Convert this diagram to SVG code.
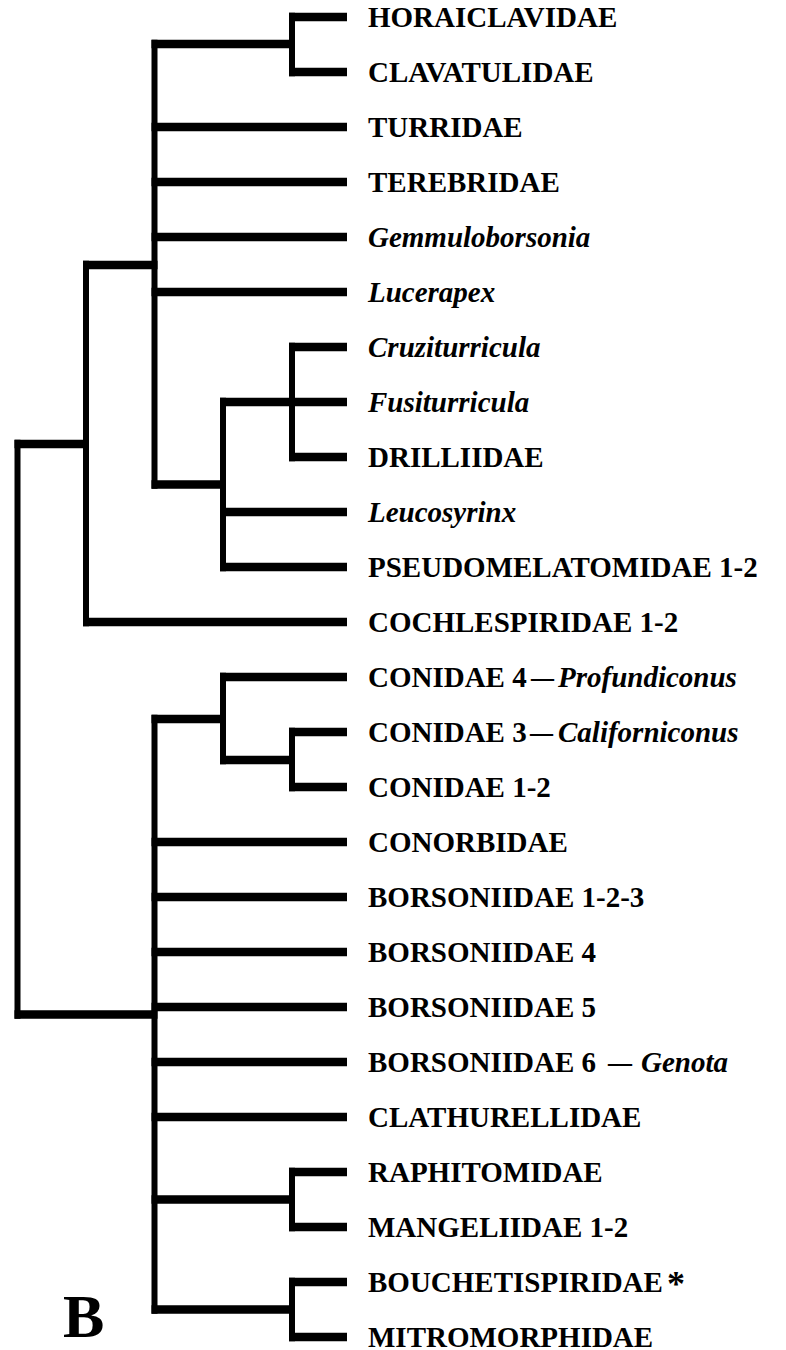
<svg xmlns="http://www.w3.org/2000/svg" width="786" height="1350" viewBox="0 0 786 1350">
<style>
.h{stroke:#000;stroke-width:8.5;fill:none}
.v{stroke:#000;stroke-width:6;fill:none}
text{font-family:"Liberation Serif","Times New Roman",serif;font-weight:bold;font-size:29px;fill:#000}
.i{font-style:italic}
</style>
<rect width="786" height="1350" fill="#fff"/>
<g id="connectors">
<path class="v" d="M17.5 439.75V1018.75M86 260.75V626.25M154.5 39.75V488.75M292 12.75V76.25M223 397.75V571.25M292 342.75V461.25M154.5 714.75V1313.75M223 672.75V764.25M292 727.75V791.25M292 1167.75V1231.25M292 1277.75V1341.25"/>
<path class="h" d="M14.5 444H89M14.5 1014.5H157.5M83 265H157.5M83 622H347M151.5 44H295M289 17H347M289 72H347M151.5 127H347M151.5 182H347M151.5 237H347M151.5 292H347M151.5 484.5H226M220 402H347M289 347H347M289 457H347M220 512H347M220 567H347M151.5 719H226M220 677H347M220 760H295M289 732H347M289 787H347M151.5 842H347M151.5 897H347M151.5 952H347M151.5 1007H347M151.5 1062H347M151.5 1117H347M151.5 1199.5H295M151.5 1309.5H295M289 1172H347M289 1227H347M289 1282H347M289 1337H347"/>
</g>
<g id="n0"><text x="368" y="26.5">HORAICLAVIDAE</text></g>
<g id="n1"><text x="368" y="81.5">CLAVATULIDAE</text></g>
<g id="n2"><text x="368" y="136.5">TURRIDAE</text></g>
<g id="n3"><text x="368" y="191.5">TEREBRIDAE</text></g>
<g id="n4"><text class="i" x="368" y="246.5">Gemmuloborsonia</text></g>
<g id="n5"><text class="i" x="368" y="301.5">Lucerapex</text></g>
<g id="n6"><text class="i" x="368" y="356.5">Cruziturricula</text></g>
<g id="n7"><text class="i" x="368" y="411.5">Fusiturricula</text></g>
<g id="n8"><text x="368" y="466.5">DRILLIIDAE</text></g>
<g id="n9"><text class="i" x="368" y="521.5">Leucosyrinx</text></g>
<g id="n10"><text x="368" y="576.5">PSEUDOMELATOMIDAE 1-2</text></g>
<g id="n11"><text x="368" y="631.5">COCHLESPIRIDAE 1-2</text></g>
<g id="n12"><text x="368" y="686.5">CONIDAE 4</text><text x="531" y="686.5" textLength="23" lengthAdjust="spacingAndGlyphs">—</text><text class="i" x="558" y="686.5">Profundiconus</text></g>
<g id="n13"><text x="368" y="741.5">CONIDAE 3</text><text x="530" y="741.5" textLength="23" lengthAdjust="spacingAndGlyphs">—</text><text class="i" x="558" y="741.5">Californiconus</text></g>
<g id="n14"><text x="368" y="796.5">CONIDAE 1-2</text></g>
<g id="n15"><text x="368" y="851.5">CONORBIDAE</text></g>
<g id="n16"><text x="368" y="906.5">BORSONIIDAE 1-2-3</text></g>
<g id="n17"><text x="368" y="961.5">BORSONIIDAE 4</text></g>
<g id="n18"><text x="368" y="1016.5">BORSONIIDAE 5</text></g>
<g id="n19"><text x="368" y="1071.5">BORSONIIDAE 6</text><text x="608" y="1071.5" textLength="24" lengthAdjust="spacingAndGlyphs">—</text><text class="i" x="641" y="1071.5">Genota</text></g>
<g id="n20"><text x="368" y="1126.5">CLATHURELLIDAE</text></g>
<g id="n21"><text x="368" y="1181.5">RAPHITOMIDAE</text></g>
<g id="n22"><text x="368" y="1236.5">MANGELIIDAE 1-2</text></g>
<g id="n23"><text x="368" y="1291.5">BOUCHETISPIRIDAE</text><text x="667" y="1296" style="font-size:36px">*</text></g>
<g id="n24"><text x="368" y="1346.5">MITROMORPHIDAE</text></g>
<g id="label"><text x="63" y="1337" style="font-size:62px">B</text></g>
</svg>
